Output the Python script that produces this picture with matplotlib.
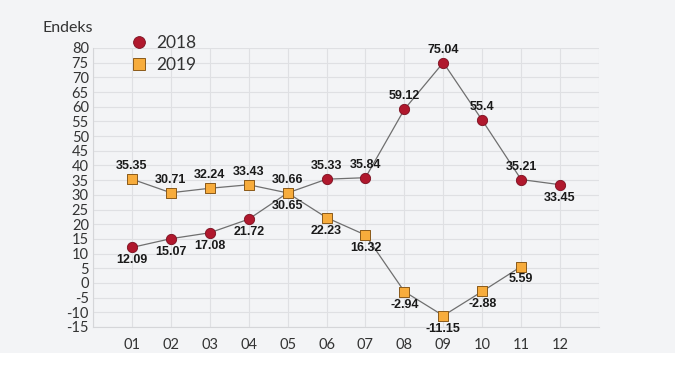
import matplotlib.pyplot as plt
import matplotlib.patches as mpatches
from matplotlib.lines import Line2D

plt.rcParams['axes.unicode_minus'] = False

months = ['01', '02', '03', '04', '05', '06', '07', '08', '09', '10', '11', '12']
y2018 = [12.09, 15.07, 17.08, 21.72, 30.65, 35.33, 35.84, 59.12, 75.04, 55.4, 35.21, 33.45]
y2019 = [35.35, 30.71, 32.24, 33.43, 30.66, 22.23, 16.32, -2.94, -11.15, -2.88, 5.59]
lab2018 = ['12.09', '15.07', '17.08', '21.72', '30.65', '35.33', '35.84', '59.12', '75.04', '55.4', '35.21', '33.45']
lab2019 = ['35.35', '30.71', '32.24', '33.43', '30.66', '22.23', '16.32', '-2.94', '-11.15', '-2.88', '5.59']
# +1 label above the point, -1 below
side2018 = [-1, -1, -1, -1, -1, 1, 1, 1, 1, 1, 1, -1]
side2019 = [1, 1, 1, 1, 1, -1, -1, -1, -1, -1, -1]
yticks = list(range(-15, 81, 5))

RED = '#b0182d'
ORANGE = '#f7ac3c'
TICK_FONT = ['Lato', 'DejaVu Sans']
LABEL_FONT = ['Liberation Sans Narrow', 'Liberation Sans', 'DejaVu Sans']

fig = plt.figure(figsize=(6.99, 3.82), dpi=100)
fig.patch.set_facecolor('white')
# light panel behind the chart
fig.add_artist(mpatches.Rectangle((0, 382 - 353), 675, 353, transform=None,
                                  facecolor='#f3f4f6', edgecolor='none', zorder=-10))

ax = fig.add_axes([93 / 699, 55 / 382, 506 / 699, 279 / 382])
ax.set_facecolor('#f3f4f6')
x = list(range(1, 13))

ax.plot(x, y2018, color='#6f6f6f', lw=0.9, zorder=2)
ax.plot(x[:len(y2019)], y2019, color='#6f6f6f', lw=0.9, zorder=2)
ax.scatter(x, y2018, s=55, marker='o', facecolor=RED, edgecolor='#7a1020',
           linewidth=0.6, zorder=3)
ax.scatter(x[:len(y2019)], y2019, s=52, marker='s', facecolor=ORANGE,
           edgecolor='#8a5a1a', linewidth=0.7, zorder=3)

for xs, ys, labs, sides in [(x, y2018, lab2018, side2018),
                            (x, y2019, lab2019, side2019)]:
    for xi, yi, lab, sd in zip(xs, ys, labs, sides):
        ax.annotate(lab, (xi, yi), xytext=(0, 5 * sd), textcoords='offset points',
                    ha='center', va='bottom' if sd > 0 else 'top',
                    fontsize=9, fontweight='bold', family=LABEL_FONT,
                    color='#1a1a1a', zorder=4)

ax.set_xlim(0, 13)
ax.set_ylim(-15, 80)
ax.set_yticks(yticks)
ax.set_xticks([0, 13] + x)
ax.set_xticklabels([''] + [''] + months)
ax.grid(True, color='#dfe0e3', lw=0.8)
ax.set_axisbelow(True)
for s in ['top', 'right']:
    ax.spines[s].set_visible(False)
for s in ['left', 'bottom']:
    ax.spines[s].set_color('#d5d6d9')
ax.tick_params(length=0, labelsize=10.5, labelcolor='#333333', pad=3)
ax.tick_params(axis='x', pad=8)
for t in ax.get_xticklabels() + ax.get_yticklabels():
    t.set_family(TICK_FONT)

fig.text(42 / 699, 1 - 28 / 382, 'Endeks', ha='left', va='center',
         fontsize=11.5, family=TICK_FONT, color='#333333')

handles = [Line2D([], [], ls='none', marker='o', markersize=8.5, markerfacecolor=RED,
                  markeredgecolor='#7a1020', markeredgewidth=0.6),
           Line2D([], [], ls='none', marker='s', markersize=8, markerfacecolor=ORANGE,
                  markeredgecolor='#8a5a1a', markeredgewidth=0.7)]
leg = fig.legend(handles, ['2018', '2019'], loc='upper left',
                 bbox_to_anchor=(123 / 699, 1 - 28 / 382), frameon=False,
                 prop={'family': TICK_FONT, 'size': 12.5}, handletextpad=0.5,
                 labelspacing=0.35, handlelength=1.0, borderaxespad=0)
for t in leg.get_texts():
    t.set_color('#333333')

fig.savefig('out.png', dpi=100)
